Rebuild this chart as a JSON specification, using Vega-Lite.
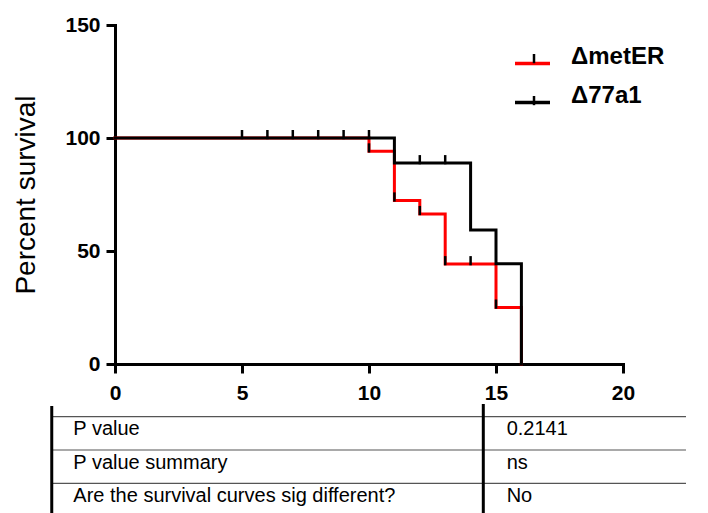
{
  "$schema": "https://vega.github.io/schema/vega-lite/v6.json",
  "background": "white",
  "padding": {"left": 12, "top": 14, "right": 5, "bottom": 0},
  "config": {
    "view": {"stroke": null},
    "font": "Liberation Sans",
    "axis": {
      "domainColor": "black", "domainWidth": 3, "domainCap": "square",
      "tickColor": "black", "tickWidth": 3, "tickSize": 9,
      "labelFont": "Liberation Sans", "labelFontWeight": "bold", "labelFontSize": 21, "labelColor": "black",
      "grid": false
    }
  },
  "bounds": "flush",
  "spacing": 40,
  "resolve": {"scale": {"x": "independent", "y": "independent"}},
  "datasets": {
    "curves": [
      {"series": "ΔmetER", "time": 0, "survival": 100},
      {"series": "ΔmetER", "time": 10, "survival": 94.1},
      {"series": "ΔmetER", "time": 11, "survival": 72.4},
      {"series": "ΔmetER", "time": 12, "survival": 66.4},
      {"series": "ΔmetER", "time": 13, "survival": 44.2},
      {"series": "ΔmetER", "time": 15, "survival": 25.0},
      {"series": "ΔmetER", "time": 16, "survival": 0},
      {"series": "Δ77a1", "time": 0, "survival": 100},
      {"series": "Δ77a1", "time": 11, "survival": 88.9},
      {"series": "Δ77a1", "time": 14, "survival": 59.3},
      {"series": "Δ77a1", "time": 15, "survival": 44.4},
      {"series": "Δ77a1", "time": 16, "survival": 0}
    ],
    "censor": [
      {"series": "ΔmetER", "time": 10, "survival": 94.1},
      {"series": "ΔmetER", "time": 11, "survival": 72.4},
      {"series": "ΔmetER", "time": 12, "survival": 66.4},
      {"series": "ΔmetER", "time": 13, "survival": 44.2},
      {"series": "ΔmetER", "time": 14, "survival": 44.2},
      {"series": "ΔmetER", "time": 15, "survival": 25.0},
      {"series": "Δ77a1", "time": 5, "survival": 100},
      {"series": "Δ77a1", "time": 6, "survival": 100},
      {"series": "Δ77a1", "time": 7, "survival": 100},
      {"series": "Δ77a1", "time": 8, "survival": 100},
      {"series": "Δ77a1", "time": 9, "survival": 100},
      {"series": "Δ77a1", "time": 10, "survival": 100},
      {"series": "Δ77a1", "time": 12, "survival": 88.9},
      {"series": "Δ77a1", "time": 13, "survival": 88.9}
    ],
    "table": [
      {"row": 0, "label": "P value", "value": "0.2141"},
      {"row": 1, "label": "P value summary", "value": "ns"},
      {"row": 2, "label": "Are the survival curves sig different?", "value": "No"}
    ]
  },
  "vconcat": [
    {
      "width": 508,
      "height": 339,
      "layer": [
        {
          "data": {"name": "curves"},
          "mark": {"type": "line", "interpolate": "step-after", "strokeWidth": 3, "strokeCap": "square"},
          "encoding": {
            "x": {"field": "time", "type": "quantitative",
                  "scale": {"domain": [0, 20], "nice": false},
                  "axis": {"values": [0, 5, 10, 15, 20], "title": null, "labelPadding": 9, "labelFlush": false}},
            "y": {"field": "survival", "type": "quantitative",
                  "scale": {"domain": [0, 150], "nice": false},
                  "axis": {"values": [0, 50, 100, 150], "title": "Percent survival", "labelPadding": 6,
                           "titleFont": "Liberation Sans", "titleFontWeight": "normal", "titleFontSize": 28,
                           "titleColor": "black", "titlePadding": 24}},
            "color": {"field": "series", "type": "nominal",
                      "scale": {"domain": ["ΔmetER", "Δ77a1"], "range": ["#ff0000", "#000000"]},
                      "legend": {"orient": "none", "legendX": 398, "legendY": 19, "title": null,
                                 "symbolType": "stroke", "symbolSize": 1225, "symbolStrokeWidth": 3.5, "symbolOpacity": 1,
                                 "labelFont": "Liberation Sans", "labelFontWeight": "bold", "labelFontSize": 24,
                                 "labelColor": "black", "labelOffset": 19, "labelBaseline": "alphabetic",
                                 "rowPadding": 12, "padding": 0}}
          }
        },
        {
          "data": {"name": "censor"},
          "mark": {"type": "point", "filled": false, "stroke": "black", "strokeWidth": 2.5, "size": 256, "opacity": 1},
          "encoding": {
            "x": {"field": "time", "type": "quantitative"},
            "y": {"field": "survival", "type": "quantitative"},
            "shape": {"field": "series", "type": "nominal",
                      "scale": {"domain": ["Δ77a1", "ΔmetER"], "range": ["M0,-1L0,0.15", "M0,-1L0,0.15"]},
                      "legend": {"orient": "none", "legendX": 407, "legendY": 25, "title": null,
                                 "symbolStrokeColor": "black", "symbolStrokeWidth": 2.5, "symbolOpacity": 1, "symbolSize": 256,
                                 "labelFont": "Liberation Sans", "labelFontWeight": "bold", "labelFontSize": 24,
                                 "labelExpr": "''", "labelOffset": 19, "labelBaseline": "alphabetic",
                                 "rowPadding": 16, "padding": 0}}
          }
        }
      ]
    },
    {
      "width": 508,
      "height": 110,
      "layer": [
        {
          "data": {"name": "table"},
          "mark": {"type": "rule", "stroke": "#555555", "strokeWidth": 1.2},
          "encoding": {
            "x": {"datum": -2.49, "type": "quantitative", "scale": {"domain": [0, 20], "nice": false, "zero": false}, "axis": null},
            "x2": {"datum": 22.48},
            "y": {"field": "row", "type": "quantitative", "scale": {"domain": [-0.38, 2.92], "reverse": true, "nice": false, "zero": false}, "axis": null}
          }
        },
        {
          "data": {"values": [{"line": "left"}]},
          "mark": {"type": "rule", "stroke": "black", "strokeWidth": 3},
          "encoding": {
            "x": {"datum": -2.49, "type": "quantitative"},
            "y": {"datum": -0.32, "type": "quantitative"},
            "y2": {"datum": 2.92}
          }
        },
        {
          "data": {"values": [{"line": "middle"}]},
          "mark": {"type": "rule", "stroke": "black", "strokeWidth": 3},
          "encoding": {
            "x": {"datum": 14.5, "type": "quantitative"},
            "y": {"datum": -0.38, "type": "quantitative"},
            "y2": {"datum": 2.92}
          }
        },
        {
          "data": {"name": "table"},
          "mark": {"type": "text", "align": "left", "baseline": "alphabetic", "dy": 18.6, "font": "Liberation Sans", "fontSize": 20, "color": "black"},
          "encoding": {
            "x": {"datum": -1.64, "type": "quantitative"},
            "y": {"field": "row", "type": "quantitative"},
            "text": {"field": "label"}
          }
        },
        {
          "data": {"name": "table"},
          "mark": {"type": "text", "align": "left", "baseline": "alphabetic", "dy": 18.6, "font": "Liberation Sans", "fontSize": 20, "color": "black"},
          "encoding": {
            "x": {"datum": 15.42, "type": "quantitative"},
            "y": {"field": "row", "type": "quantitative"},
            "text": {"field": "value"}
          }
        }
      ]
    }
  ]
}
